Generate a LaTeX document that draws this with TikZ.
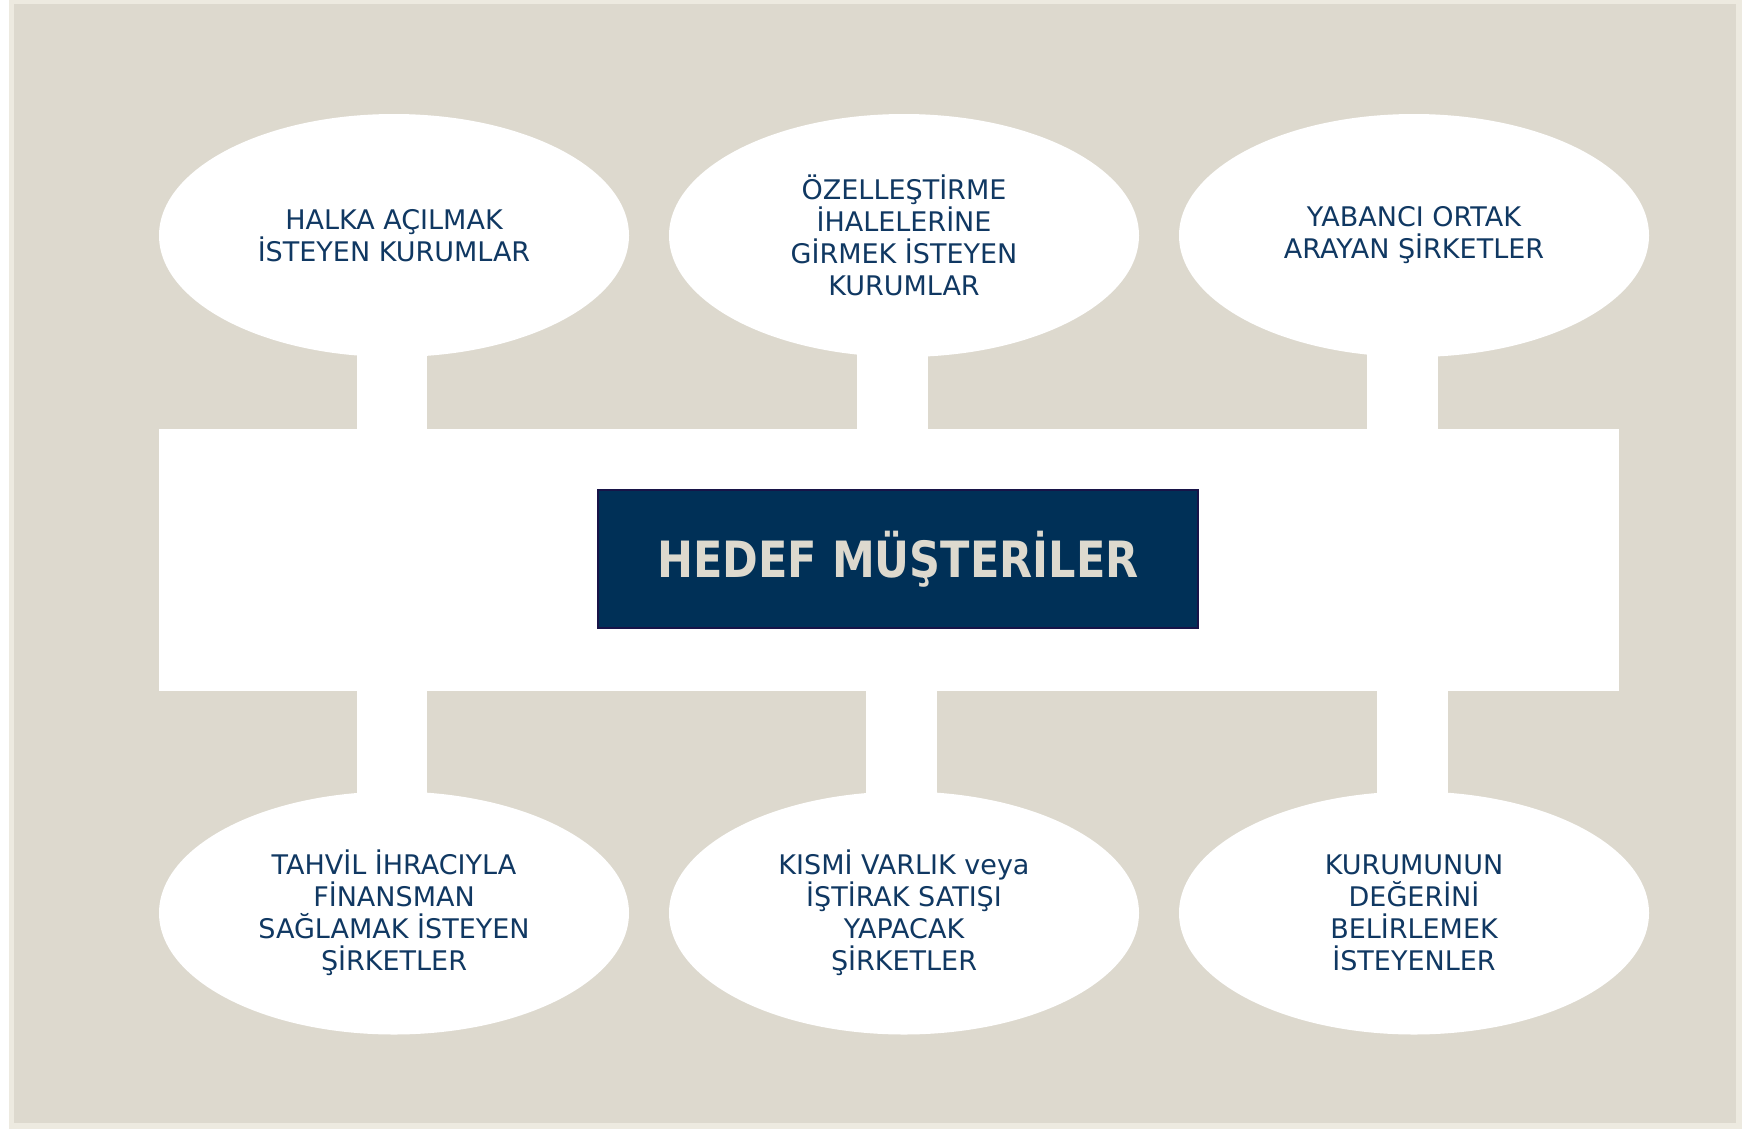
\documentclass[tikz,border=0pt]{standalone}
\usepackage{fontspec}
\setmainfont{DejaVu Sans}
\usetikzlibrary{shapes.geometric}
\definecolor{framelight}{RGB}{237,234,224}
\definecolor{beige}{RGB}{221,217,206}
\definecolor{navytext}{RGB}{16,56,98}
\definecolor{boxfill}{RGB}{0,48,87}
\definecolor{boxline}{RGB}{24,20,72}
\tikzset{
  target/.style={ellipse, fill=white, minimum width=470pt, minimum height=243pt,
    inner sep=0pt, align=center, text=navytext,
    font=\fontsize{27}{32}\selectfont},
  hubrect/.style={rectangle, fill=white, minimum width=1460pt, minimum height=262pt, inner sep=0pt},
  titlebox/.style={rectangle, fill=boxfill, draw=boxline, line width=2pt,
    minimum width=600pt, minimum height=138pt, inner sep=0pt, text=beige},
  stem/.style={draw=white, line width=70.5pt}
}
\begin{document}
\begin{tikzpicture}[x=1pt,y=-1pt]
\useasboundingbox (0,0) rectangle (1742,1129);
\fill[framelight] (9,0) rectangle (1742,1129);
\fill[beige] (14,4) rectangle (1736,1123);

\node[hubrect] (hub) at (889,560) {};

\node[target] (t1) at (394,235.5) {HALKA AÇILMAK\\İSTEYEN KURUMLAR};
\node[target] (t2) at (904,235.5) {ÖZELLEŞTİRME\\İHALELERİNE\\GİRMEK İSTEYEN\\KURUMLAR};
\node[target] (t3) at (1414,235.5) {YABANCI ORTAK\\ARAYAN ŞİRKETLER};
\node[target] (b1) at (394,913) {TAHVİL İHRACIYLA\\FİNANSMAN\\SAĞLAMAK İSTEYEN\\ŞİRKETLER};
\node[target] (b2) at (904,913) {KISMİ VARLIK veya\\İŞTİRAK SATIŞI\\YAPACAK\\ŞİRKETLER};
\node[target] (b3) at (1414,913) {KURUMUNUN\\DEĞERİNİ\\BELİRLEMEK\\İSTEYENLER};

\draw[stem] ([xshift=-2pt,yshift=15pt]t1.south) -- ([xshift=-2pt]t1.south |- hub.north);
\draw[stem] ([xshift=-11.5pt,yshift=15pt]t2.south) -- ([xshift=-11.5pt]t2.south |- hub.north);
\draw[stem] ([xshift=-11.5pt,yshift=15pt]t3.south) -- ([xshift=-11.5pt]t3.south |- hub.north);
\draw[stem] ([xshift=-2pt,yshift=-15pt]b1.north) -- ([xshift=-2pt]b1.north |- hub.south);
\draw[stem] ([xshift=-2.5pt,yshift=-15pt]b2.north) -- ([xshift=-2.5pt]b2.north |- hub.south);
\draw[stem] ([xshift=-1.5pt,yshift=-15pt]b3.north) -- ([xshift=-1.5pt]b3.north |- hub.south);

\node[titlebox] (title) at (898,559) {\scalebox{0.86}[1]{\fontsize{50}{60}\selectfont\bfseries HEDEF MÜŞTERİLER}};
\end{tikzpicture}
\end{document}
